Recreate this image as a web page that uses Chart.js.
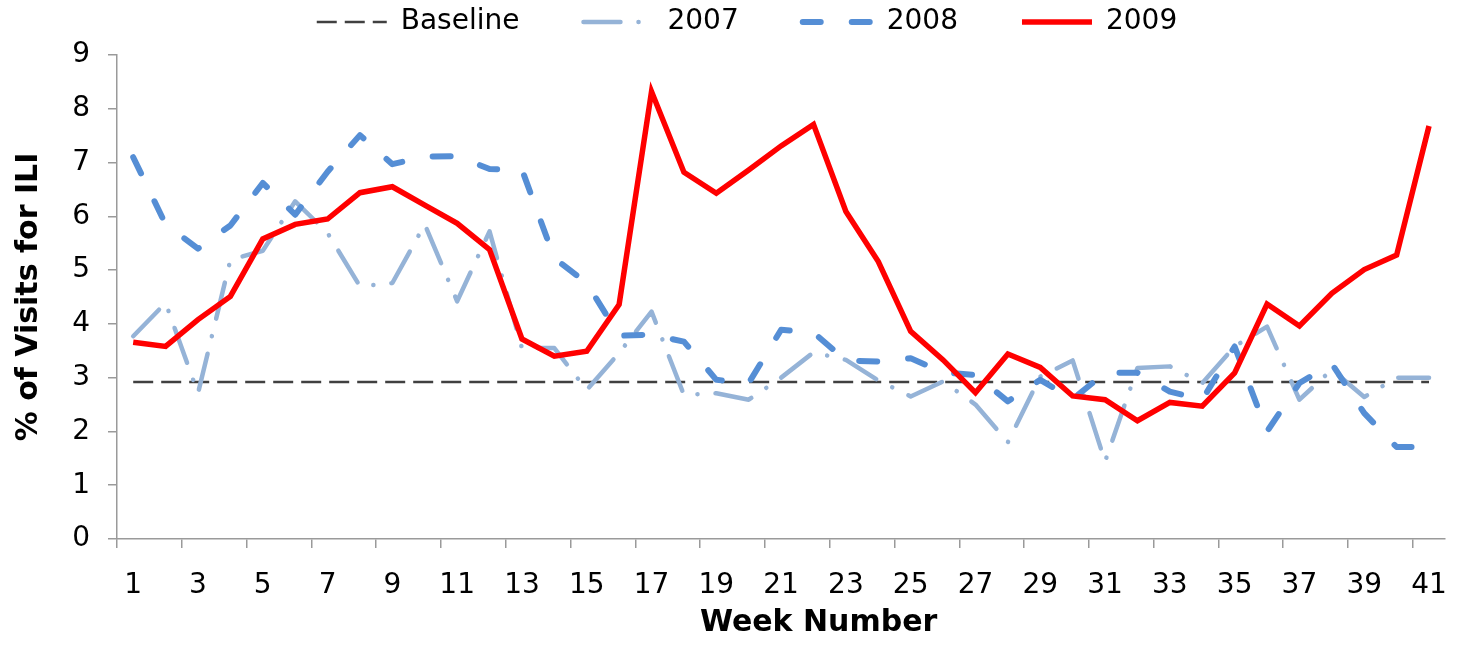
<!DOCTYPE html>
<html>
<head>
<meta charset="utf-8">
<script src="https://cdn.jsdelivr.net/npm/chart.js@4/dist/chart.umd.min.js"></script>
<style>
  html, body { margin: 0; padding: 0; background: #fff; }
  #wrap { width: 1468px; height: 648px; }
</style>
</head>
<body>
<div id="wrap"><canvas id="myChart"></canvas></div>
<script>
const weeks = ['1','2','3','4','5','6','7','8','9','10','11','12','13','14','15','16','17','18','19','20',
  '21','22','23','24','25','26','27','28','29','30','31','32','33','34','35','36','37','38','39','40','41'];

const baseline = [2.92, 2.92, 2.92, 2.92, 2.92, 2.92, 2.92, 2.92, 2.92, 2.92, 2.92, 2.92, 2.92, 2.92,
  2.92, 2.92, 2.92, 2.92, 2.92, 2.92, 2.92, 2.92, 2.92, 2.92, 2.92, 2.92, 2.92, 2.92,
  2.92, 2.92, 2.92, 2.92, 2.92, 2.92, 2.92, 2.92, 2.92, 2.92, 2.92, 2.92, 2.92];

const ili2007 = [3.77, 4.39, 2.71, 5.19, 5.36, 6.28, 5.69, 4.70, 4.76, 5.85,
  4.42, 5.72, 3.55, 3.55, 2.77, 3.46, 4.23, 2.68, 2.71, 2.59,
  3.00, 3.47, 3.33, 2.95, 2.65, 2.93, 2.50, 1.80, 3.02, 3.32,
  1.44, 3.18, 3.21, 2.90, 3.58, 3.95, 2.59, 3.15, 2.64, 3.00, 3.00];

const ili2008 = [7.10, 5.85, 5.40, 5.83, 6.62, 6.03, 6.83, 7.51, 6.97, 7.11,
  7.12, 6.88, 6.87, 5.22, 4.76, 3.78, 3.80, 3.67, 2.96, 2.90,
  3.89, 3.84, 3.32, 3.30, 3.36, 3.10, 3.05, 2.56, 2.96, 2.60,
  3.09, 3.09, 2.74, 2.59, 3.58, 2.00, 2.90, 3.26, 2.34, 1.71, 1.71];

const ili2009 = [3.66, 3.58, 4.08, 4.51, 5.58, 5.85, 5.95, 6.44, 6.55, 6.21,
  5.87, 5.38, 3.72, 3.40, 3.49, 4.36, 8.32, 6.82, 6.43, 6.86,
  7.31, 7.71, 6.09, 5.16, 3.86, 3.33, 2.72, 3.44, 3.19, 2.66,
  2.59, 2.20, 2.54, 2.47, 3.09, 4.37, 3.96, 4.57, 5.01, 5.28, 7.68];

const yTicks = [0, 1, 2, 3, 4, 5, 6, 7, 8, 9];

const FONT = 'DejaVu Sans';
const AXIS_GREY = '#9a9a9a';
const LEFT_PAD = 40; // shifts the centred legend right; y axis width makes up for it

// legend box gets a fixed height so the plot top lands where the reference has it
const legendBlock = {
  id: 'legendBlock',
  beforeLayout: function (chart) {
    const legend = chart.legend;
    if (legend && !legend._fixedHeight) {
      const fit = legend.fit;
      legend.fit = function () {
        fit.call(this);
        this.height = 55;
      };
      legend._fixedHeight = true;
    }
  }
};

const ctx = document.getElementById('myChart').getContext('2d');

new Chart(ctx, {
  type: 'line',
  data: {
    labels: weeks,
    datasets: [{
      label: 'Baseline',
      data: baseline,
      borderColor: '#404040',
      borderWidth: 2.5,
      borderDash: [20, 8],
      pointRadius: 0,
      order: 4
    }, {
      label: '2007',
      data: ili2007,
      borderColor: '#95B3D7',
      borderWidth: 4.5,
      borderDash: [37, 18, 0.1, 18],
      borderCapStyle: 'round',
      borderJoinStyle: 'round',
      pointRadius: 0,
      order: 3
    }, {
      label: '2008',
      data: ili2008,
      borderColor: '#558ED5',
      borderWidth: 6,
      borderDash: [18, 31],
      borderCapStyle: 'round',
      borderJoinStyle: 'round',
      pointRadius: 0,
      order: 2
    }, {
      label: '2009',
      data: ili2009,
      borderColor: '#FF0000',
      borderWidth: 5.5,
      pointRadius: 0,
      order: 1
    }]
  },
  options: {
    responsive: true,
    maintainAspectRatio: false,
    animation: false,
    layout: {
      padding: { top: 0, right: 14, bottom: 0, left: LEFT_PAD }
    },
    plugins: {
      tooltip: { enabled: false },
      legend: {
        position: 'top',
        labels: {
          usePointStyle: true,
          pointStyle: 'line',
          pointStyleWidth: 70,
          padding: 8,
          color: '#000',
          font: { family: FONT, size: 28 },
          generateLabels: function (chart) {
            const items = Chart.defaults.plugins.legend.labels.generateLabels(chart);
            items.sort((a, b) => a.datasetIndex - b.datasetIndex);
            return items.map((item, i) => {
              const ds = chart.data.datasets[item.datasetIndex];
              item.lineDash = ds.borderDash || [];
              item.lineCap = ds.borderCapStyle || 'butt';
              item.lineWidth = ds.borderWidth;
              if (i < items.length - 1) item.text = item.text + '\u2003\u2003';
              return item;
            });
          }
        }
      }
    },
    scales: {
      x: {
        offset: true,
        afterFit: function (scale) { scale.height = 109; },
        grid: {
          offset: true,
          drawOnChartArea: false,
          tickLength: 9,
          lineWidth: 1.5,
          tickColor: (c) => (c.index % 2 === 0 ? AXIS_GREY : 'rgba(0,0,0,0)')
        },
        border: { color: AXIS_GREY, width: 1.5 },
        ticks: {
          autoSkip: false,
          maxRotation: 0,
          padding: 21,
          color: '#000',
          font: { family: FONT, size: 28 },
          callback: function (val, index) {
            return index % 2 === 0 ? weeks[index] : '';
          }
        },
        title: {
          display: true,
          text: '\u2003\u2003\u2002Week Number',
          color: '#000',
          font: { family: FONT, size: 30, weight: 'bold' },
          padding: { top: 0, bottom: 7 }
        }
      },
      y: {
        min: yTicks[0],
        max: yTicks[yTicks.length - 1],
        afterFit: function (scale) { scale.width = 117 - LEFT_PAD; },
        grid: {
          drawOnChartArea: false,
          tickLength: 9,
          lineWidth: 1.5,
          color: AXIS_GREY
        },
        border: { color: AXIS_GREY, width: 1.5 },
        ticks: {
          stepSize: 1,
          padding: 18,
          color: '#000',
          font: { family: FONT, size: 28 }
        },
        title: {
          display: true,
          text: '% of Visits for ILI',
          color: '#000',
          font: { family: FONT, size: 30, weight: 'bold' },
          padding: { top: 11 - LEFT_PAD, bottom: 0 }
        }
      }
    }
  },
  plugins: [legendBlock]
});
</script>
</body>
</html>
